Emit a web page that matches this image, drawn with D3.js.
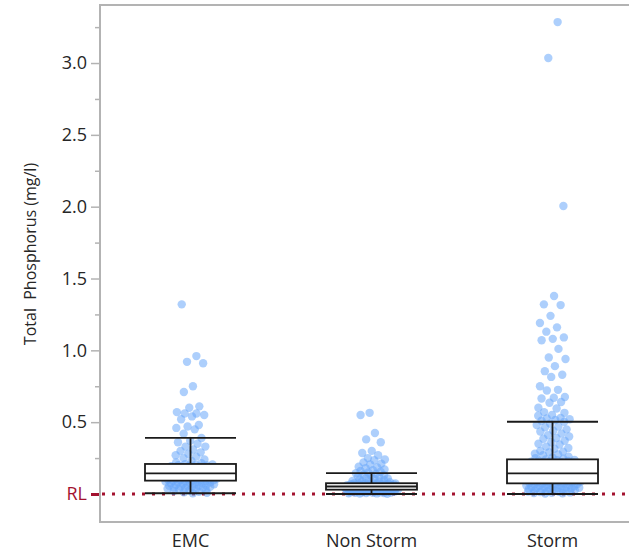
<!DOCTYPE html>
<html>
<head>
<meta charset="utf-8">
<script src="https://cdn.jsdelivr.net/npm/d3@7"></script>
<style>
  body { margin: 0; background: #fff; }
  text { font-family: "Open Sans", "Noto Sans", sans-serif; }
</style>
</head>
<body>
<div id="chart"></div>
<script>
// categories and values (mg/l)
const categories = ["EMC", "Non Storm", "Storm"];

const emcValues = [
  1.32, 0.96, 0.92, 0.91, 0.75, 0.71, 0.61, 0.60, 0.57, 0.56, 0.56, 0.55, 0.54, 0.52, 0.48, 0.47, 0.46, 0.45, 0.42,
  0.39, 0.37, 0.36, 0.35, 0.33, 0.33, 0.31, 0.30, 0.29, 0.28, 0.27, 0.26, 0.25, 0.24, 0.23, 0.22, 0.215,
  0.208, 0.205, 0.203, 0.200, 0.198, 0.196, 0.193, 0.191, 0.190, 0.187, 0.185, 0.184, 0.181, 0.180, 0.177, 0.175,
  0.174, 0.171, 0.170, 0.168, 0.165, 0.164, 0.162, 0.160, 0.158, 0.157, 0.155, 0.153, 0.152, 0.150, 0.149, 0.147, 0.146, 0.145,
  0.143, 0.141, 0.140, 0.138, 0.136, 0.135, 0.133, 0.132, 0.130, 0.129, 0.127, 0.125, 0.124, 0.122, 0.121, 0.119,
  0.118, 0.116, 0.115, 0.113, 0.112, 0.110, 0.108, 0.107, 0.105, 0.104, 0.102, 0.100, 0.099, 0.097, 0.096, 0.094,
  0.092, 0.090, 0.088, 0.086, 0.083, 0.081, 0.079, 0.077, 0.075, 0.073, 0.070, 0.068, 0.066, 0.064, 0.061, 0.059,
  0.057, 0.055, 0.052, 0.050, 0.047, 0.045, 0.043, 0.040, 0.037, 0.034, 0.031, 0.028, 0.024, 0.020, 0.016, 0.012, 0.008, 0.005
];

const nonStormValues = [
  0.565, 0.55, 0.425, 0.38, 0.36, 0.30, 0.285, 0.27, 0.25, 0.24, 0.235, 0.22, 0.21, 0.205, 0.19, 0.185, 0.18, 0.17, 0.165, 0.16, 0.155, 0.15,
  0.145, 0.140, 0.135, 0.131, 0.126, 0.121, 0.117, 0.112, 0.108, 0.104, 0.100, 0.097, 0.094, 0.091, 0.088, 0.085, 0.082, 0.078,
  0.075, 0.074, 0.073, 0.073, 0.072, 0.071, 0.070, 0.069, 0.069, 0.068, 0.067, 0.066, 0.066, 0.065, 0.064, 0.063,
  0.062, 0.062, 0.061, 0.060, 0.059, 0.059, 0.058, 0.057, 0.056, 0.056, 0.055, 0.054, 0.054, 0.053, 0.053, 0.052,
  0.051, 0.050, 0.050, 0.049, 0.048, 0.047, 0.047, 0.046, 0.045, 0.044, 0.044, 0.043, 0.042, 0.041, 0.041, 0.040,
  0.039, 0.038, 0.038, 0.037, 0.036, 0.036, 0.035, 0.034, 0.033, 0.033, 0.032, 0.031, 0.031, 0.030,
  0.029, 0.028, 0.028, 0.027, 0.026, 0.026, 0.025, 0.024, 0.023, 0.023, 0.022, 0.021, 0.020, 0.020, 0.019, 0.018,
  0.017, 0.017, 0.016, 0.015, 0.014, 0.013, 0.013, 0.012, 0.011, 0.010, 0.009, 0.008, 0.007, 0.006, 0.005, 0.004, 0.003, 0.002
];

const stormValues = [
  3.285, 3.035, 2.005, 1.378, 1.32, 1.315, 1.24, 1.19, 1.16, 1.13, 1.09, 1.08, 1.07, 1.01, 0.95, 0.94, 0.89, 0.855,
  0.83, 0.815, 0.75, 0.725, 0.72, 0.675, 0.67, 0.665, 0.64, 0.635, 0.60, 0.595, 0.57, 0.565, 0.55, 0.545, 0.53, 0.525, 0.52, 0.515, 0.51,
  0.503, 0.49, 0.48, 0.47, 0.465, 0.45, 0.44, 0.435, 0.42, 0.41, 0.40, 0.39, 0.385, 0.37, 0.36, 0.35, 0.345, 0.33,
  0.32, 0.315, 0.30, 0.295, 0.29, 0.28, 0.275, 0.27, 0.26, 0.255, 0.25, 0.245,
  0.240, 0.237, 0.235, 0.232, 0.230, 0.227, 0.225, 0.222, 0.220, 0.217, 0.215, 0.212, 0.210, 0.207, 0.205, 0.202,
  0.200, 0.197, 0.195, 0.192, 0.190, 0.187, 0.185, 0.182, 0.180, 0.177, 0.175, 0.172, 0.170, 0.167, 0.165, 0.162,
  0.160, 0.158, 0.155, 0.153, 0.151, 0.149, 0.147, 0.145,
  0.143, 0.141, 0.139, 0.137, 0.135, 0.133, 0.131, 0.129, 0.127, 0.125, 0.123, 0.121, 0.119, 0.117, 0.115, 0.113,
  0.111, 0.109, 0.107, 0.105, 0.103, 0.101, 0.099, 0.097, 0.095, 0.093, 0.091, 0.089, 0.087, 0.085, 0.083, 0.081,
  0.079, 0.077, 0.075,
  0.073, 0.071, 0.069, 0.067, 0.065, 0.063, 0.061, 0.059, 0.057, 0.055, 0.053, 0.051, 0.049, 0.047, 0.045, 0.043,
  0.041, 0.039, 0.037, 0.035, 0.033, 0.031, 0.029, 0.027, 0.025, 0.023, 0.021, 0.019, 0.017, 0.015, 0.013, 0.011,
  0.009, 0.007, 0.005, 0.003
];

// box plot summaries, one per category
const boxLow    = [0.005, 0.0,   0.0];
const boxQ1     = [0.093, 0.030, 0.074];
const boxMedian = [0.144, 0.052, 0.144];
const boxQ3     = [0.209, 0.075, 0.241];
const boxHigh   = [0.390, 0.145, 0.503];

const yTicks = [0.5, 1.0, 1.5, 2.0, 2.5, 3.0];
const yMinorTicks = [0.25, 0.75, 1.25, 1.75, 2.25, 2.75, 3.25];
const refValue = 0;
const refLabel = "RL";

const seriesValues = [emcValues, nonStormValues, stormValues];

// dimensions
const W = 629, H = 553;
const plot = {left: 100, top: 5, right: 643, bottom: 522};

const svg = d3.select("#chart")
  .append("svg")
    .attr("width", W)
    .attr("height", H);

const x = d3.scaleBand()
  .domain(categories)
  .range([plot.left, plot.right]);

const y = d3.scaleLinear()
  .domain([-0.195, 3.404])
  .range([plot.bottom, plot.top]);

const colors = {
  frame: "#b3b3b3",
  text: "#262626",
  ref: "#a3122f",
  dot: "rgb(105,168,250)",
  box: "#1a1a1a"
};

// minor ticks
svg.append("g")
  .attr("transform", `translate(${plot.left},0)`)
  .call(d3.axisLeft(y).tickValues(yMinorTicks).tickSize(5).tickFormat(""))
  .call(g => g.select(".domain").remove())
  .call(g => g.selectAll("line").attr("stroke", colors.frame).attr("stroke-width", 1.5));

// major ticks
svg.append("g")
  .attr("class", "Yaxis axis")
  .attr("transform", `translate(${plot.left},0)`)
  .call(d3.axisLeft(y).tickValues(yTicks).tickSize(9).tickPadding(4).tickFormat(d3.format(".1f")))
  .call(g => g.select(".domain").remove())
  .call(g => g.selectAll("line").attr("stroke", colors.frame).attr("stroke-width", 1.5))
  .call(g => g.selectAll("text")
    .attr("fill", colors.text)
    .style("font-size", "18px"));

// reference line tick + label
svg.append("g")
  .attr("transform", `translate(${plot.left},0)`)
  .call(d3.axisLeft(y).tickValues([refValue]).tickSize(9).tickPadding(4).tickFormat(() => refLabel))
  .call(g => g.select(".domain").remove())
  .call(g => g.selectAll("line").attr("stroke", colors.ref).attr("stroke-width", 3))
  .call(g => g.selectAll("text")
    .attr("fill", colors.ref)
    .style("font-size", "18px"));

// y title
svg.append("text")
  .attr("transform", `translate(30,254) rotate(-90)`)
  .attr("text-anchor", "middle")
  .attr("dy", "0.35em")
  .style("white-space", "pre")
  .style("font-size", "16px")
  .attr("fill", colors.text)
  .text("Total  Phosphorus (mg/l)");

// category labels
svg.append("g")
  .selectAll("text")
  .data(categories)
  .join("text")
    .attr("x", d => x(d) + x.bandwidth() / 2)
    .attr("y", 547)
    .attr("text-anchor", "middle")
    .style("font-size", "18px")
    .attr("fill", colors.text)
    .text(d => d);

// reference line
svg.append("line")
  .attr("x1", plot.left + 2)
  .attr("x2", plot.right)
  .attr("y1", y(refValue))
  .attr("y2", y(refValue))
  .attr("stroke", colors.ref)
  .attr("stroke-width", 3)
  .attr("stroke-dasharray", "3 7");

// jittered points: spread widens where points are dense
const points = [];
seriesValues.forEach((vals, ci) => {
  const cx = x(categories[ci]) + x.bandwidth() / 2;
  const ys = vals.map(v => y(v));
  const counts = ys.map(py => ys.filter(q => Math.abs(q - py) <= 5).length);
  const kmax = d3.max(counts);
  vals.forEach((v, i) => {
    const spread = 9 + 19 * Math.sqrt(counts[i] / kmax);
    const u = ((i * 0.618034 + ci * 0.29 + 0.13) % 1) * 2 - 1;
    points.push({cat: categories[ci], value: v, px: cx + u * spread});
  });
});

svg.append("g")
  .attr("class", "chart")
  .selectAll("circle")
  .data(points)
  .join("circle")
    .attr("cx", d => d.px)
    .attr("cy", d => y(d.value))
    .attr("r", 4.2)
    .style("fill", colors.dot)
    .style("opacity", 0.55);

// box plots
const boxW = 91;
const boxes = svg.append("g")
  .selectAll("g")
  .data(categories)
  .join("g")
    .attr("transform", d => `translate(${x(d) + x.bandwidth() / 2},0)`);

boxes.append("line")
  .attr("y1", (d, i) => y(boxHigh[i]))
  .attr("y2", (d, i) => y(boxLow[i]))
  .attr("stroke", colors.box)
  .attr("stroke-width", 1.8);

boxes.append("rect")
  .attr("x", -boxW / 2)
  .attr("width", boxW)
  .attr("y", (d, i) => y(boxQ3[i]))
  .attr("height", (d, i) => y(boxQ1[i]) - y(boxQ3[i]))
  .attr("fill", "#fff")
  .attr("stroke", colors.box)
  .attr("stroke-width", 1.8);

[boxMedian, boxHigh, boxLow].forEach(arr => {
  boxes.append("line")
    .attr("x1", -boxW / 2)
    .attr("x2", boxW / 2)
    .attr("y1", (d, i) => y(arr[i]))
    .attr("y2", (d, i) => y(arr[i]))
    .attr("stroke", colors.box)
    .attr("stroke-width", 1.8);
});

// frame
svg.append("rect")
  .attr("x", plot.left)
  .attr("y", plot.top)
  .attr("width", plot.right - plot.left)
  .attr("height", plot.bottom - plot.top)
  .attr("fill", "none")
  .attr("stroke", colors.frame)
  .attr("stroke-width", 2);
</script>
</body>
</html>
